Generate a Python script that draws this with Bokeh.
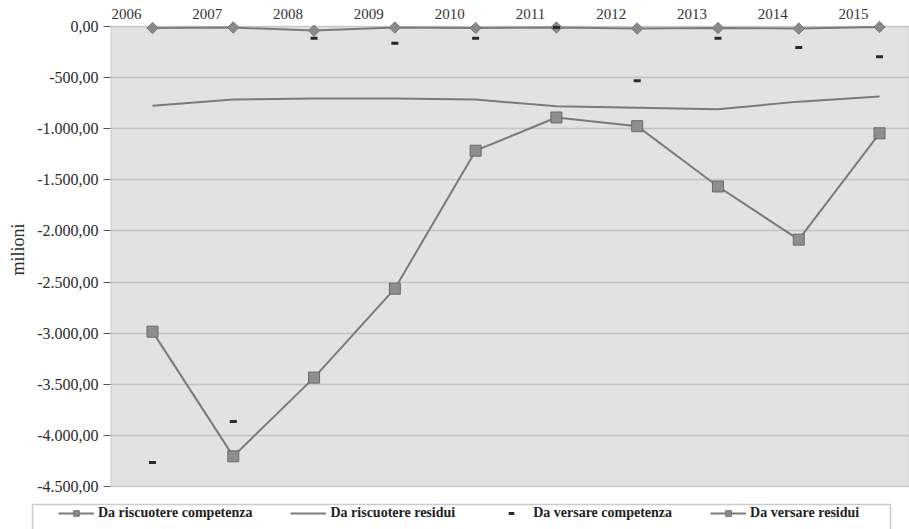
from bokeh.plotting import figure
from bokeh.layouts import column
from bokeh.models import (FixedTicker, BoxAnnotation, Legend, LegendItem,
                          ColumnDataSource, Range1d)
from bokeh.core.properties import value
from bokeh.embed import file_html
from bokeh.resources import INLINE

# ---- data (milioni) ----
years = [2006, 2007, 2008, 2009, 2010, 2011, 2012, 2013, 2014, 2015]
year_labels = ["2006", "2007", "2008", "2009", "2010", "2011", "2012", "2013", "2014", "2015"]
da_riscuotere_competenza = [-15, -10, -40, -10, -15, -10, -20, -15, -20, -5]
da_riscuotere_residui = [-775, -715, -705, -705, -715, -780, -795, -810, -735, -685]
da_versare_competenza = [-4265, -3865, -115, -165, -115, -10, -530, -115, -205, -295]
da_versare_residui = [-2985, -4205, -3435, -2565, -1215, -890, -975, -1565, -2085, -1045]
y_ticks = [0, -500, -1000, -1500, -2000, -2500, -3000, -3500, -4000, -4500]
y_tick_labels = ["0,00", "-500,00", "-1.000,00", "-1.500,00", "-2.000,00",
                 "-2.500,00", "-3.000,00", "-3.500,00", "-4.000,00", "-4.500,00"]
series_labels = ["Da riscuotere competenza", "Da riscuotere residui",
                 "Da versare competenza", "Da versare residui"]

SERIF = "Liberation Serif"
X0, X1 = 2005.48, 2015.371

src = ColumnDataSource(dict(
    x=years, lab=year_labels, base=[0] * len(years),
    rc=da_riscuotere_competenza, rr=da_riscuotere_residui,
    vc=da_versare_competenza, vr=da_versare_residui))

p = figure(width=909, height=498,
           x_range=Range1d(X0, X1), y_range=Range1d(-4617.4, 254.3),
           x_axis_type=None, output_backend="svg", toolbar_location=None,
           min_border_left=110, min_border_right=0, min_border_top=0,
           min_border_bottom=0, background_fill_color="white",
           border_fill_color="white", outline_line_color=None)
p.frame_align = False

# plot area
area = BoxAnnotation(left=X0, right=X1, top=0, bottom=-4500,
                     fill_color="#e2e2e2", fill_alpha=1.0,
                     line_color="#6e6e6e", line_width=1.5, level="image")
p.add_layout(area)

p.xgrid.visible = False
p.ygrid.ticker = FixedTicker(ticks=y_ticks[1:-1])
p.ygrid.grid_line_color = "#c4c4c4"
p.ygrid.grid_line_width = 1.5

ax = p.yaxis[0]
ax.ticker = FixedTicker(ticks=y_ticks)
ax.major_label_overrides = {t: l for t, l in zip(y_ticks, y_tick_labels)}
ax.axis_line_color = None
ax.major_tick_out = 7
ax.major_tick_in = 0
ax.minor_tick_line_color = None
ax.major_tick_line_color = "#555555"
ax.major_tick_line_width = 1.2
ax.major_label_text_font = SERIF
ax.major_label_text_font_size = "16px"
ax.major_label_text_color = "#2a2a2a"
ax.major_label_standoff = 5
ax.axis_label = "milioni"
ax.axis_label_text_font = SERIF
ax.axis_label_text_font_size = "18px"
ax.axis_label_text_font_style = "normal"
ax.axis_label_text_color = "#2a2a2a"
ax.axis_label_standoff = 6

# year labels along the top axis
p.text(x="x", y="base", text="lab", source=src, x_offset=-26, y_offset=-12,
       text_align="center", text_baseline="middle", text_font=value(SERIF),
       text_font_size="15px", text_color="#333333")

LINE = "#7b7b7b"
STY = dict(
    rc_l=dict(line_color=LINE, line_width=2),
    rc_m=dict(marker="square", angle=0.785, size=8, fill_color="#8a8a8a", line_color="#777777"),
    rr=dict(line_color=LINE, line_width=2),
    vr_l=dict(line_color=LINE, line_width=2),
    vr_m=dict(marker="square", size=11, fill_color="#8e8e8e", line_color="#6a6a6a", line_width=1),
    vc=dict(marker="dash", size=7, line_color="#2a2a2a", line_width=3),
)


def draw(fig):
    return dict(
        rc_l=fig.line("x", "rc", source=src, **STY["rc_l"]),
        rc_m=fig.scatter("x", "rc", source=src, **STY["rc_m"]),
        rr=fig.line("x", "rr", source=src, **STY["rr"]),
        vr_l=fig.line("x", "vr", source=src, **STY["vr_l"]),
        vr_m=fig.scatter("x", "vr", source=src, **STY["vr_m"]),
        vc=fig.scatter("x", "vc", source=src, **STY["vc"]),
    )


draw(p)

# ---- legend strip below the chart ----
lf = figure(width=909, height=31, x_range=Range1d(0, 909), y_range=Range1d(0, 31),
            x_axis_type=None, y_axis_type=None, output_backend="svg",
            toolbar_location=None, min_border=0, outline_line_color=None,
            background_fill_color="white", border_fill_color="white")
lf.frame_align = False
lf.xgrid.visible = False
lf.ygrid.visible = False
lr = draw(lf)  # same series, out of this strip's view: only their legend glyphs show

lf.add_layout(BoxAnnotation(left=32, right=890, top=25, bottom=-10,
                            fill_color="white", fill_alpha=1.0,
                            line_color="#555555", line_width=1.5, level="underlay"))

legend = Legend(items=[
    LegendItem(label=series_labels[0], renderers=[lr["rc_l"], lr["rc_m"]]),
    LegendItem(label=series_labels[1], renderers=[lr["rr"]]),
    LegendItem(label=series_labels[2], renderers=[lr["vc"]]),
    LegendItem(label=series_labels[3], renderers=[lr["vr_l"], lr["vr_m"]]),
], orientation="horizontal", location=(58, 8))
legend.label_text_font = SERIF
legend.label_text_font_style = "bold"
legend.label_text_font_size = "14px"
legend.label_text_color = "#1e1e1e"
legend.glyph_width = 36
legend.glyph_height = 14
legend.label_standoff = 4
legend.spacing = 38
legend.padding = 0
legend.margin = 0
legend.border_line_color = None
legend.background_fill_alpha = 0.0
lf.add_layout(legend, "center")

open("out.html", "w").write(file_html(column(p, lf, spacing=0), INLINE))
